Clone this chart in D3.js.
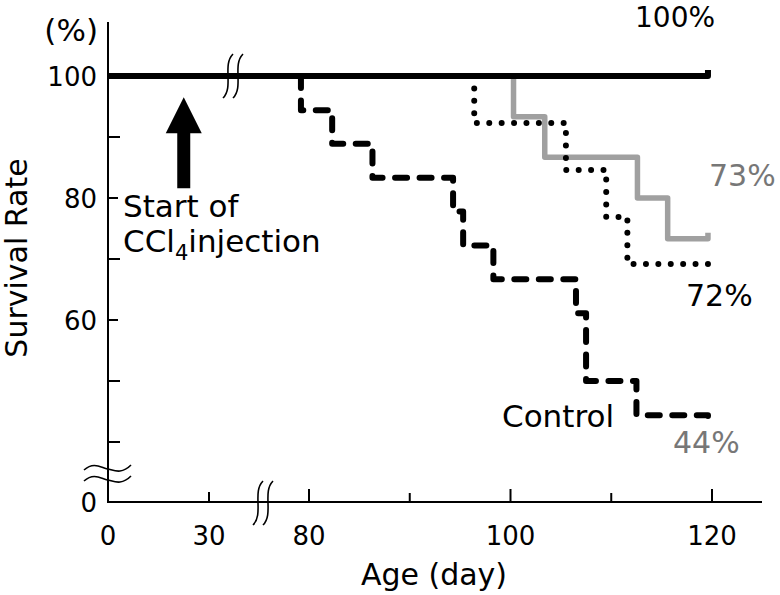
<!DOCTYPE html>
<html>
<head>
<meta charset="utf-8">
<script src="https://cdn.jsdelivr.net/npm/d3@7"></script>
<style>
  body { margin: 0; background: #fff; }
  svg { display: block; font-family: "DejaVu Sans", Verdana, sans-serif; }
</style>
</head>
<body>
<svg id="chart" width="780" height="595"></svg>
<script>
// data (drop days and survival after each drop, %)
const refDays = [0];
const refSurv = [100];
const refEnd = 119.6;

const controlDays = [79.2, 82.3, 86.3, 94.3, 95.3, 98.3, 106.5, 107.5, 112.5];
const controlSurv = [94.4, 88.9, 83.3, 77.8, 72.2, 66.7, 61.1, 50.0, 44.4];
const controlEnd = 119.6;

const grayDays = [100.3, 103.4, 112.6, 115.6];
const graySurv = [93.3, 86.7, 80.0, 73.3];
const grayEnd = 119.6;

const dotDays = [96.4, 105.5, 109.5, 111.6];
const dotSurv = [92.3, 84.6, 76.9, 69.2];
const dotEnd = 119.6;

// ticks
const xLowTicks = [30];
const xLowLabels = ['0', '30'];
const xHighMajor = [80, 100, 120];
const xHighMinor = [90, 110];
const yMajor = [60, 80, 100];
const yMinor = [40, 50, 70, 90];

const svg = d3.select('#chart');

// scales (broken axes)
const xLow = d3.scaleLinear().domain([0, 30]).range([108, 209]);
const xHigh = d3.scaleLinear().domain([80, 120]).range([309, 712]);
const x = (d) => d < 50 ? xLow(d) : xHigh(d);

const yHigh = d3.scaleLinear().domain([40, 100]).range([442, 76]);
const yZero = 502;
const y = (v) => v < 20 ? yZero : yHigh(v);

const axisRight = 762;
const axisTop = 22;

// axes
const axes = svg.append('g')
  .attr('stroke', '#000')
  .attr('stroke-width', 2)
  .attr('fill', 'none');

axes.append('line')
  .attr('x1', x(0)).attr('x2', x(0))
  .attr('y1', axisTop).attr('y2', yZero + 1);

axes.append('line')
  .attr('x1', x(0) - 1).attr('x2', axisRight)
  .attr('y1', yZero).attr('y2', yZero);

// y ticks
axes.selectAll('line.ytick')
  .data(yMajor.map((v) => ({ v, len: 10 })).concat(yMinor.map((v) => ({ v, len: 12 }))))
  .enter()
  .append('line')
  .attr('class', 'ytick')
  .attr('x1', x(0)).attr('x2', (d) => x(0) + d.len)
  .attr('y1', (d) => y(d.v)).attr('y2', (d) => y(d.v));

// x ticks
const xTickData = xLowTicks.map((d) => ({ px: xLow(d), len: 10 }))
  .concat(xHighMajor.map((d) => ({ px: xHigh(d), len: 13 })))
  .concat(xHighMinor.map((d) => ({ px: xHigh(d), len: 9 })));

axes.selectAll('line.xtick')
  .data(xTickData)
  .enter()
  .append('line')
  .attr('class', 'xtick')
  .attr('x1', (d) => d.px).attr('x2', (d) => d.px)
  .attr('y1', yZero).attr('y2', (d) => yZero - d.len);

// tick labels
const labels = svg.append('g')
  .attr('font-size', 26)
  .attr('fill', '#000');

labels.selectAll('text.ylab')
  .data(yMajor)
  .enter()
  .append('text')
  .attr('class', 'ylab')
  .attr('x', 97)
  .attr('y', (d) => y(d) + 10)
  .attr('text-anchor', 'end')
  .text((d) => d);

labels.append('text')
  .attr('x', 97).attr('y', yZero + 10)
  .attr('text-anchor', 'end')
  .text('0');

labels.append('text')
  .attr('x', 98).attr('y', 41)
  .attr('font-size', 31)
  .attr('text-anchor', 'end')
  .text('(%)');

labels.selectAll('text.xlow')
  .data([0].concat(xLowTicks))
  .enter()
  .append('text')
  .attr('class', 'xlow')
  .attr('x', (d) => xLow(d))
  .attr('y', 545)
  .attr('text-anchor', 'middle')
  .text((d, i) => xLowLabels[i]);

labels.selectAll('text.xhigh')
  .data(xHighMajor)
  .enter()
  .append('text')
  .attr('class', 'xhigh')
  .attr('x', (d) => xHigh(d))
  .attr('y', 545)
  .attr('text-anchor', 'middle')
  .text((d) => d);

// axis titles
svg.append('text')
  .attr('x', 434).attr('y', 585)
  .attr('font-size', 30)
  .attr('text-anchor', 'middle')
  .text('Age (day)');

svg.append('text')
  .attr('transform', 'translate(27, 258) rotate(-90)')
  .attr('font-size', 30)
  .attr('text-anchor', 'middle')
  .text('Survival Rate');

// survival curves
const line = d3.line()
  .x((d) => x(d[0]))
  .y((d) => y(d[1]))
  .curve(d3.curveStepAfter);

function kmPoints(days, surv, end, start) {
  const pts = [[start, 100]];
  days.forEach((d, i) => pts.push([d, surv[i]]));
  pts.push([end, surv[surv.length - 1]]);
  return pts;
}

const series = [
  { pts: kmPoints(controlDays, controlSurv, controlEnd, controlDays[0]), color: '#000', width: 6, dash: '12 12.5', tick: 8 },
  { pts: kmPoints(grayDays, graySurv, grayEnd, grayDays[0]), color: '#a0a0a0', width: 5.5, dash: null, tick: -6 },
  { pts: kmPoints(dotDays, dotSurv, dotEnd, dotDays[0]), color: '#000', width: 6, dash: '0 12.4', tick: -5 },
  { pts: [[refDays[0], refSurv[0]], [refEnd, refSurv[0]]], color: '#000', width: 6, dash: null, tick: -6 }
];

const curves = svg.append('g').attr('fill', 'none');

curves.selectAll('path.km')
  .data(series)
  .enter()
  .append('path')
  .attr('class', 'km')
  .attr('d', (d) => {
    const last = d.pts[d.pts.length - 1];
    return line(d.pts) + `L${x(last[0])},${y(last[1]) + d.tick}`;
  })
  .attr('stroke', (d) => d.color)
  .attr('stroke-width', (d) => d.width)
  .attr('stroke-dasharray', (d) => d.dash)
  .attr('stroke-linecap', (d) => d.dash ? 'round' : 'butt')
  .attr('stroke-linejoin', 'round');

// break marks
function sCurve(cx, cy, h) {
  const w = 5;
  return `M${cx + w},${cy - h / 2} C${cx - w * 1.2},${cy - h / 4} ${cx + w * 1.2},${cy + h / 4} ${cx - w},${cy + h / 2}`;
}

const breaks = svg.append('g')
  .attr('fill', 'none')
  .attr('stroke', '#000')
  .attr('stroke-width', 1.6);

// on the 100% line
[228, 238].forEach((cx) => breaks.append('path').attr('d', sCurve(cx, y(100), 44)));
// on the x axis
[258, 268].forEach((cx) => breaks.append('path').attr('d', sCurve(cx, yZero + 1, 44)));

// on the y axis (horizontal waves)
function wave(cy) {
  const x0 = 84, x1 = 131, mid = (x0 + x1) / 2;
  return `M${x0},${cy + 1} C${x0 + 10},${cy - 8} ${mid - 6},${cy - 1} ${mid},${cy} S${x1 - 10},${cy + 6} ${x1},${cy - 4}`;
}
[469, 480].forEach((cy) => breaks.append('path').attr('d', wave(cy)));

// arrow for the start of injection
const arrowDay = 22.5;
const ax = xLow(arrowDay);
const tipY = y(96.5);
const headY = y(90.6);
const tailY = y(81.6);

svg.append('path')
  .attr('d', `M${ax},${tipY} L${ax + 18},${headY} L${ax + 6.5},${headY} L${ax + 6.5},${tailY} L${ax - 6.5},${tailY} L${ax - 6.5},${headY} L${ax - 18},${headY} Z`)
  .attr('fill', '#000');

// annotations
const notes = svg.append('g').attr('font-size', 31);

const start = notes.append('text').attr('x', 123).attr('y', 217);
start.text('Start of');

const ccl = notes.append('text').attr('x', 123).attr('y', 252);
ccl.append('tspan').text('CCl');
ccl.append('tspan').attr('font-size', 21).attr('dy', 8).text('4');
ccl.append('tspan').attr('dy', -8).text('injection');

notes.append('text').attr('x', 635).attr('y', 27).attr('font-size', 28).attr('fill', '#000').text('100%');
notes.append('text').attr('x', 709).attr('y', 186).attr('font-size', 30).attr('fill', '#777').text('73%');
notes.append('text').attr('x', 686).attr('y', 306).attr('font-size', 30).attr('fill', '#000').text('72%');
notes.append('text').attr('x', 502).attr('y', 427).attr('fill', '#000').text('Control');
notes.append('text').attr('x', 673).attr('y', 453).attr('font-size', 30).attr('fill', '#777').text('44%');
</script>
</body>
</html>
